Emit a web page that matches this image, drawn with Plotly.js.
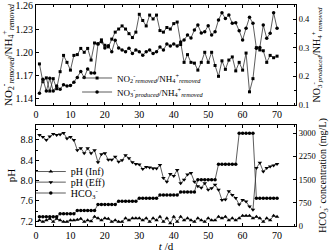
<!DOCTYPE html>
<html><head><meta charset="utf-8">
<script src="https://cdn.plot.ly/plotly-3.0.1.min.js"></script>
<style>html,body{margin:0;padding:0;background:#fff}#chart{width:330px;height:252px}</style>
</head><body><div id="chart"></div>
<script>
const days = [1,2,3,4,5,6,7,8,9,10,11,12,13,14,15,16,17,18,19,20,21,22,23,24,25,26,27,28,29,30,31,32,33,34,35,36,37,38,39,40,41,42,43,44,45,46,47,48,49,50,51,52,53,54,55,56,57,58,59,60,61,62,63,64,65,66,67,68,69,70];

const no2Ratio = [1.185,1.162,1.167,1.150,1.166,1.153,1.175,1.196,1.187,1.177,1.196,1.197,1.205,1.200,1.205,1.190,1.212,1.211,1.216,1.209,1.207,1.217,1.226,1.230,1.234,1.230,1.224,1.219,1.226,1.249,1.241,1.234,1.248,1.243,1.248,1.228,1.226,1.232,1.230,1.237,1.239,1.210,
1.187,1.197,1.187,1.186,1.177,1.187,1.200,1.187,1.200,1.183,1.169,1.189,1.178,1.190,1.194,1.176,1.187,1.177,1.199,1.149,1.166,1.206,1.203,1.202,1.187,1.196,1.193,1.195];

const no3Ratio = [0.141,0.190,0.149,0.193,0.149,0.166,0.155,0.171,0.166,0.168,0.179,0.196,0.217,0.196,0.226,0.212,0.212,0.313,0.321,0.299,0.307,0.286,0.326,0.299,
0.292,0.286,0.298,0.280,0.292,0.286,0.274,0.286,0.292,0.280,0.286,0.302,0.292,0.313,0.306,0.313,0.306,0.320,
0.327,0.344,0.334,0.362,0.379,0.351,
0.356,0.377,0.344,0.356,0.397,0.422,0.402,0.414,0.385,0.387,0.359,0.327,0.368,0.406,0.385,0.298,0.301,0.379,0.333,0.350,0.422,0.368];

const phInf = [7.22,7.19,7.22,7.25,7.19,7.25,7.22,7.19,7.19,7.22,7.22,7.23,7.25,7.19,7.22,7.20,7.29,7.26,7.22,7.26,7.25,7.19,7.22,7.19,7.19,7.26,7.22,7.26,7.26,7.26,7.22,7.26,7.19,7.26,7.22,7.29,7.19,7.26,7.16,7.29,7.19,7.29,7.22,7.26,7.22,7.19,7.26,7.22,7.19,7.26,7.22,7.22,7.29,7.26,7.29,7.22,7.26,7.22,7.26,7.31,7.31,7.31,7.26,7.29,7.26,7.19,7.26,7.22,7.31,7.29];

const phEff = [8.90,8.86,8.80,8.87,8.92,8.90,8.91,8.94,8.83,8.86,8.80,8.60,8.64,8.54,8.64,8.54,8.60,8.36,8.52,8.54,8.41,8.41,8.47,8.37,8.40,8.50,8.44,8.36,8.33,8.32,8.23,8.27,8.26,8.24,8.24,8.31,8.05,7.98,8.13,8.09,8.21,7.95,8.02,8.12,8.15,7.98,7.89,7.86,7.95,7.82,7.85,7.92,7.82,7.62,7.63,7.79,7.72,7.66,7.53,7.62,7.59,7.49,7.43,8.25,8.35,8.18,8.25,8.28,8.30,8.33];

const hco3 = [300,300,300,300,300,300,400,400,400,400,400,500,500,500,500,500,500,700,700,700,700,700,700,800,800,800,800,800,800,900,900,900,900,900,900,1000,1000,1000,1000,1000,1000,1100,1100,1100,1100,1100,1500,1500,1500,1500,1500,1500,2000,2000,2000,2000,2000,2000,3000,3000,3000,3000,3000,900,900,900,900,900,900,900];

const leftTopTicks = [1.14, 1.17, 1.20, 1.23, 1.26];
const leftTopText = ['1.14', '1.17', '1.20', '1.23', '1.26'];
const hco3Ticks = [0, 750, 1500, 2250, 3000];

const seriesNames = [
  'NO<sub>2</sub><sup>-</sup><sub><i>removed</i></sub>/NH<sub>4</sub><sup>+</sup><sub><i>removed</i></sub>',
  'NO<sub>3</sub><sup>-</sup><sub><i>produced</i></sub>/NH<sub>4</sub><sup>+</sup><sub><i>removed</i></sub>',
  'pH (Inf)', 'pH (Eff)', 'HCO<sub>3</sub><sup>-</sup>'
];

const FONT = 'Liberation Serif, Times New Roman, serif';
const lineStyle = {color:'#333', width:0.8};
function mk(sym, size){ return {symbol:sym, size:size, color:'#000', line:{width:0}}; }

const traces = [
  {x:days, y:no2Ratio, xaxis:'x', yaxis:'y', mode:'lines+markers', name:seriesNames[0], line:lineStyle, marker:mk('square',3), legend:'legend'},
  {x:days, y:no3Ratio, xaxis:'x', yaxis:'y2', mode:'lines+markers', name:seriesNames[1], line:lineStyle, marker:mk('circle',3.5), legend:'legend2'},
  {x:days, y:phInf, xaxis:'x2', yaxis:'y3', mode:'lines+markers', name:seriesNames[2], line:lineStyle, marker:mk('triangle-up',4), legend:'legend3'},
  {x:days, y:phEff, xaxis:'x2', yaxis:'y3', mode:'lines+markers', name:seriesNames[3], line:lineStyle, marker:mk('triangle-down',4), legend:'legend4'},
  {x:days, y:hco3, xaxis:'x2', yaxis:'y4', mode:'lines+markers', name:seriesNames[4], line:lineStyle, marker:mk('circle',3.5), legend:'legend5'}
];

const axBase = {showline:true, linecolor:'#000', linewidth:1, ticks:'inside', ticklen:3, tickcolor:'#000', tickwidth:1,
  showgrid:false, zeroline:false, tickfont:{family:FONT, size:10, color:'#000'}};
const xRange = [0, 75.5];

function leg(x, y, size){ return {x:x, y:y, xanchor:'left', yanchor:'middle', bgcolor:'rgba(0,0,0,0)', borderwidth:0,
  font:{family:FONT, size:size, color:'#000'}, itemwidth:30}; }

const layout = {
  width:330, height:252,
  margin:{l:36, r:34, t:5, b:26},
  paper_bgcolor:'#fff', plot_bgcolor:'#fff',
  font:{family:FONT, color:'#000'},
  xaxis: Object.assign({}, axBase, {domain:[0,1], anchor:'y', range:xRange, tick0:0, dtick:10, mirror:'ticks',
    minor:{ticks:'inside', ticklen:2, dtick:5, tickcolor:'#000'}}),
  yaxis: Object.assign({}, axBase, {domain:[0.5475,1], anchor:'x', range:[1.132,1.261], tickmode:'array', tickvals:leftTopTicks, ticktext:leftTopText,
    title:{text:'NO<sub>2</sub><sup>-</sup><sub><i>removed</i></sub>/NH<sub>4</sub><sup>+</sup><sub><i>removed</i></sub>', font:{family:FONT, size:11}, standoff:2}}),
  yaxis2: Object.assign({}, axBase, {overlaying:'y', side:'right', anchor:'x', range:[0.1,0.449], tick0:0.1, dtick:0.1, tickformat:'.1f',
    tickfont:{family:FONT, size:8.5, color:'#000'},
    minor:{ticks:'inside', ticklen:2, dtick:0.05, tickcolor:'#000'},
    title:{text:'NO<sub>3</sub><sup>-</sup><sub><i>produced</i></sub>/NH<sub>4</sub><sup>+</sup><sub><i>removed</i></sub>', font:{family:FONT, size:10}, standoff:2}}),
  xaxis2: Object.assign({}, axBase, {domain:[0,1], anchor:'y3', range:xRange, tick0:0, dtick:10, mirror:'ticks',
    minor:{ticks:'inside', ticklen:2, dtick:5, tickcolor:'#000'},
    title:{text:'<i>t</i> /d', font:{family:FONT, size:11}, standoff:1}}),
  yaxis3: Object.assign({}, axBase, {domain:[0,0.457], anchor:'x2', range:[7.108,9.095], tick0:7.2, dtick:0.4, tickformat:'.1f',
    minor:{ticks:'inside', ticklen:2, dtick:0.2, tickcolor:'#000'},
    title:{text:'pH', font:{family:FONT, size:11}, standoff:2}}),
  yaxis4: Object.assign({}, axBase, {overlaying:'y3', side:'right', anchor:'x2', range:[0,3270], tickmode:'array', tickvals:hco3Ticks,
    tickfont:{family:FONT, size:8.5, color:'#000'},
    title:{text:'HCO<sub>3</sub><sup>-</sup> concentration (mg/L)', font:{family:FONT, size:10}, standoff:2}}),
  legend: leg(0.158, 0.6697, 9),
  legend2: leg(0.158, 0.6063, 9),
  legend3: leg(-0.02, 0.2465, 10),
  legend4: leg(-0.02, 0.1985, 10),
  legend5: leg(-0.02, 0.1493, 10),
  showlegend:true
};

Plotly.newPlot('chart', traces, layout, {displayModeBar:false, staticPlot:true});
</script>
</body></html>
